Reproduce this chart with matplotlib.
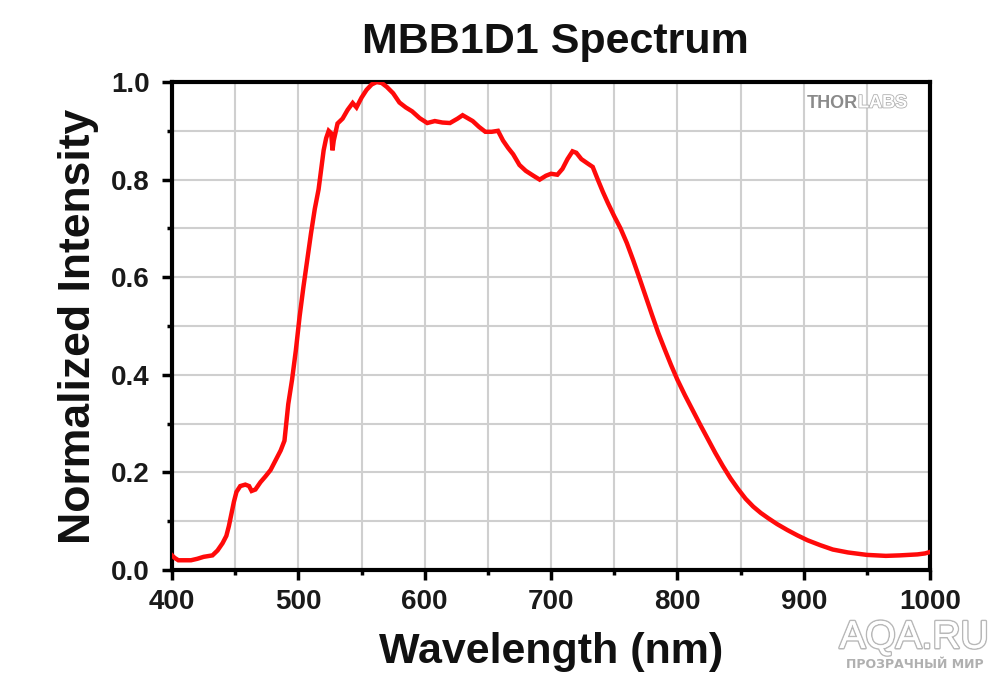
import matplotlib
matplotlib.use("Agg")
import matplotlib.pyplot as plt
import matplotlib.patheffects as pe
from matplotlib.ticker import MultipleLocator, FormatStrFormatter

plt.rcParams['font.family'] = ['Liberation Sans', 'DejaVu Sans']
plt.rcParams['font.weight'] = 'bold'

# Spectrum data
wavelength = [400, 402, 405, 415, 420, 425, 432, 436, 440, 443, 445, 447, 449, 451,
              454, 458, 461, 463, 466, 470, 474, 478, 482, 486, 489, 490, 492, 495,
              498, 501, 504, 507, 510, 513, 516, 518, 520, 522, 524, 526, 527, 528,
              531, 535, 539, 543, 546, 550, 554, 558, 562, 566, 570, 575, 580, 585,
              590, 596, 602, 608, 614, 620, 626, 630, 634, 638, 643, 648, 653, 658,
              662, 666, 670, 675, 680, 686, 691, 696, 700, 705, 709, 713, 717, 720,
              724, 729, 733, 737, 741, 745, 750, 755, 760, 765, 770, 775, 780, 785,
              790, 795, 800, 806, 812, 818, 824, 830, 836, 842, 848, 854, 860, 866,
              872, 879, 887, 895, 903, 913, 923, 935, 950, 965, 976, 990, 996, 1000]
intensity = [0.030, 0.025, 0.020, 0.020, 0.023, 0.027, 0.030, 0.040, 0.055, 0.070, 0.090,
             0.115, 0.140, 0.160, 0.172, 0.175, 0.172, 0.162, 0.165, 0.180, 0.192, 0.205,
             0.225, 0.245, 0.265, 0.290, 0.340, 0.390, 0.450, 0.520, 0.580, 0.635, 0.690,
             0.740, 0.780, 0.820, 0.860, 0.885, 0.900, 0.895, 0.860, 0.880, 0.915, 0.925,
             0.943, 0.957, 0.948, 0.968, 0.984, 0.995, 1.000, 0.998, 0.990, 0.977, 0.958,
             0.948, 0.940, 0.926, 0.916, 0.920, 0.917, 0.916, 0.925, 0.932, 0.926, 0.920,
             0.908, 0.898, 0.898, 0.900, 0.880, 0.865, 0.852, 0.830, 0.818, 0.808, 0.800,
             0.808, 0.812, 0.810, 0.822, 0.842, 0.858, 0.855, 0.842, 0.833, 0.826, 0.800,
             0.775, 0.752, 0.725, 0.700, 0.670, 0.635, 0.598, 0.560, 0.522, 0.485, 0.452,
             0.420, 0.390, 0.358, 0.328, 0.298, 0.269, 0.240, 0.213, 0.188, 0.166, 0.146,
             0.130, 0.117, 0.106, 0.094, 0.082, 0.071, 0.061, 0.051, 0.042, 0.036, 0.031,
             0.029, 0.030, 0.032, 0.034, 0.037]

title = "MBB1D1 Spectrum"
xlabel = "Wavelength (nm)"
ylabel = "Normalized Intensity"

fig = plt.figure(figsize=(9.99, 6.79), dpi=100)
ax = fig.add_axes([0.1722, 0.1605, 0.7588, 0.7187])

ax.plot(wavelength, intensity, color='#ff0a0a', lw=3.2, solid_joinstyle='miter', zorder=3)

ax.set_xlim(400, 1000)
ax.set_ylim(0, 1.0)
ax.xaxis.set_major_locator(MultipleLocator(100))
ax.xaxis.set_minor_locator(MultipleLocator(50))
ax.yaxis.set_major_locator(MultipleLocator(0.2))
ax.yaxis.set_minor_locator(MultipleLocator(0.1))
ax.yaxis.set_major_formatter(FormatStrFormatter('%.1f'))

ax.grid(which='both', color='#cfcfcf', lw=1.5, zorder=0)
ax.set_axisbelow(True)
for s in ax.spines.values():
    s.set_linewidth(3)
    s.set_color('black')

ax.tick_params(which='major', direction='out', length=7, width=2.5, labelsize=20, pad=7)
ax.tick_params(which='minor', direction='out', length=3.5, width=2.5)
ax.tick_params(axis='y', which='major', pad=9)
for lab in ax.get_xticklabels() + ax.get_yticklabels():
    lab.set_fontweight('bold')
    lab.set_color('#1a1a1a')

fig.text(555 / 999, 1 - 53 / 679, title, ha='center', va='baseline', fontsize=31, fontweight='bold', color='#111111')
ax.set_xlabel(xlabel, fontsize=31, fontweight='bold', labelpad=12, color='#111111')
ax.set_ylabel(ylabel, fontsize=32, fontweight='bold', labelpad=9, color='#111111')

# Watermarks
ax.text(858 / 999, 1 - 103 / 679, "THOR", transform=fig.transFigure, ha='right', va='center',
        fontsize=13, fontweight='bold', color='#8a8a8a', zorder=5)
ax.text(858 / 999, 1 - 103 / 679, "LABS", transform=fig.transFigure, ha='left', va='center',
        fontsize=13, fontweight='bold', color='white', zorder=5,
        path_effects=[pe.withStroke(linewidth=1.2, foreground='#b0b0b0')])
fig.text(914 / 999, 1 - 638 / 679, "AQA.RU", ha='center', va='center', fontsize=28,
         fontweight='normal', color='white',
         path_effects=[pe.withStroke(linewidth=2.2, foreground='#b8b8b8'), pe.Normal()])
fig.text(915 / 999, 1 - 664 / 679, "ПРОЗРАЧНЫЙ МИР", ha='center', va='center', fontsize=9,
         fontweight='bold', color='#b0b0b0', family=['DejaVu Sans'])

fig.savefig("out.png", dpi=100)
